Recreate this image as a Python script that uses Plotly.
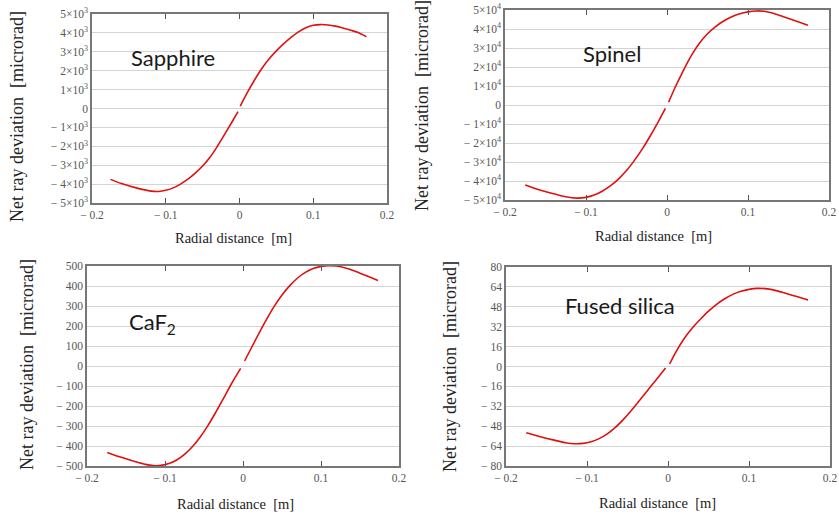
import plotly.graph_objects as go

W, H = 839, 521

# ---------------- data ----------------
sapphire_x = [-0.175, -0.16, -0.14, -0.12, -0.11, -0.10, -0.09, -0.08, -0.07, -0.06, -0.05, -0.04, -0.03, -0.02, -0.01, -0.002,
              None, 0.001, 0.01, 0.02, 0.03, 0.04, 0.05, 0.06, 0.07, 0.08, 0.09, 0.10, 0.11, 0.12, 0.13, 0.14, 0.15, 0.16, 0.172]
sapphire_y = [-3750, -3970, -4200, -4370, -4390, -4330, -4200, -4000, -3740, -3420, -3040, -2580, -2000, -1360, -700, -170,
              None, 120, 800, 1480, 2100, 2620, 3050, 3430, 3760, 4050, 4270, 4400, 4440, 4420, 4360, 4260, 4150, 4030, 3800]

spinel_x = [-0.175, -0.16, -0.14, -0.125, -0.111, -0.10, -0.09, -0.08, -0.07, -0.06, -0.05, -0.04, -0.03, -0.02, -0.01, -0.002,
            None, 0.002, 0.01, 0.02, 0.03, 0.04, 0.05, 0.06, 0.07, 0.08, 0.09, 0.10, 0.11, 0.12, 0.13, 0.143, 0.16, 0.174]
spinel_y = [-42100, -44300, -46700, -48300, -49000, -48600, -47400, -45400, -42600, -39000, -34500, -29000, -22800, -15800, -8200, -1800,
            None, 1500, 9200, 18000, 26000, 32500, 37500, 41300, 44200, 46400, 48000, 49000, 49500, 49300, 48400, 46600, 44100, 42000]

caf2_x = [-0.174, -0.155, -0.14, -0.125, -0.115, -0.105, -0.095, -0.085, -0.075, -0.065, -0.055, -0.045, -0.035, -0.025, -0.015, -0.003,
          None, 0.002, 0.01, 0.02, 0.03, 0.04, 0.05, 0.06, 0.07, 0.08, 0.09, 0.10, 0.11, 0.12, 0.135, 0.15, 0.173]
caf2_y = [-432, -458, -476, -492, -498, -497, -488, -470, -442, -404, -356, -298, -232, -162, -90, -12,
          None, 25, 85, 160, 232, 298, 355, 402, 440, 468, 487, 498, 502, 500, 486, 464, 428]

fused_x = [-0.175, -0.16, -0.142, -0.125, -0.115, -0.105, -0.095, -0.085, -0.075, -0.065, -0.055, -0.045, -0.035, -0.025, -0.015, -0.003,
           None, 0.002, 0.01, 0.02, 0.03, 0.04, 0.05, 0.06, 0.07, 0.08, 0.09, 0.10, 0.11, 0.12, 0.13, 0.146, 0.16, 0.173]
fused_y = [-53.3, -56.0, -59.0, -61.5, -62.1, -61.8, -60.5, -58.0, -54.2, -49.0, -42.5, -35.2, -27.2, -19.0, -11.0, -1.2,
           None, 2.0, 12.0, 22.5, 31.0, 38.0, 44.5, 50.0, 54.5, 58.0, 60.5, 62.0, 62.8, 62.6, 61.6, 58.7, 56.0, 53.4]

materials = ["Sapphire", "Spinel", "CaF<sub>2</sub>", "Fused silica"]

x_tickvals = [-0.2, -0.1, 0, 0.1, 0.2]
x_ticktext = ["− 0.2", "− 0.1", "0", "0.1", "0.2"]

sapphire_tickvals = [5000, 4000, 3000, 2000, 1000, 0, -1000, -2000, -3000, -4000, -5000]
sapphire_ticktext = ["5×10<sup>3</sup>", "4×10<sup>3</sup>", "3×10<sup>3</sup>", "2×10<sup>3</sup>", "1×10<sup>3</sup>", "0",
                     "− 1×10<sup>3</sup>", "− 2×10<sup>3</sup>", "− 3×10<sup>3</sup>", "− 4×10<sup>3</sup>", "− 5×10<sup>3</sup>"]
spinel_tickvals = [50000, 40000, 30000, 20000, 10000, 0, -10000, -20000, -30000, -40000, -50000]
spinel_ticktext = ["5×10<sup>4</sup>", "4×10<sup>4</sup>", "3×10<sup>4</sup>", "2×10<sup>4</sup>", "1×10<sup>4</sup>", "0",
                   "− 1×10<sup>4</sup>", "− 2×10<sup>4</sup>", "− 3×10<sup>4</sup>", "− 4×10<sup>4</sup>", "− 5×10<sup>4</sup>"]
caf2_tickvals = [500, 400, 300, 200, 100, 0, -100, -200, -300, -400, -500]
caf2_ticktext = ["500", "400", "300", "200", "100", "0", "− 100", "− 200", "− 300", "− 400", "− 500"]
fused_tickvals = [80, 64, 48, 32, 16, 0, -16, -32, -48, -64, -80]
fused_ticktext = ["80", "64", "48", "32", "16", "0", "− 16", "− 32", "− 48", "− 64", "− 80"]

x_title = "Radial distance&nbsp;&nbsp;[m]"
y_title = "Net ray deviation&nbsp;&nbsp;[microrad]"

# ---------------- layout geometry (pixels) ----------------
panels = [
    dict(x=sapphire_x, y=sapphire_y, tv=sapphire_tickvals, tt=sapphire_ticktext, yr=[-5000, 5000],
         box=(92, 387, 14, 203), lab=(173, 57), yt=(17, 117), xt=(233, 238)),
    dict(x=spinel_x, y=spinel_y, tv=spinel_tickvals, tt=spinel_ticktext, yr=[-50000, 50000],
         box=(505, 829, 10, 200), lab=(612, 53), yt=(422, 106), xt=(653, 236)),
    dict(x=caf2_x, y=caf2_y, tv=caf2_tickvals, tt=caf2_ticktext, yr=[-500, 500],
         box=(87, 399, 266, 466), lab=(152, 323), yt=(27, 365), xt=(235, 504)),
    dict(x=fused_x, y=fused_y, tv=fused_tickvals, tt=fused_ticktext, yr=[-80, 80],
         box=(506, 830, 267, 466), lab=(620, 305), yt=(450, 367), xt=(657, 503)),
]

fig = go.Figure()
tickfont = dict(family="Liberation Serif", size=11.5, color="#555555")
annotations = []

for i, p in enumerate(panels):
    n = "" if i == 0 else str(i + 1)
    l, r, t, b = p["box"]
    fig.add_trace(go.Scatter(x=p["x"], y=p["y"], mode="lines", connectgaps=False,
                             line=dict(color="#e01010", width=1.6, shape="spline", smoothing=1.0),
                             xaxis="x" + n, yaxis="y" + n, showlegend=False, hoverinfo="skip"))
    fig.layout["xaxis" + n] = dict(
        domain=[l / W, r / W], anchor="y" + n, range=[-0.2, 0.2],
        tickvals=x_tickvals, ticktext=x_ticktext, tickfont=tickfont,
        ticks="inside", ticklen=5, tickcolor="#555555", tickwidth=1,
        showline=True, linecolor="#777777", linewidth=1.5, mirror="ticks",
        showgrid=False, zeroline=False, automargin=False)
    fig.layout["yaxis" + n] = dict(
        domain=[1 - b / H, 1 - t / H], anchor="x" + n, range=p["yr"],
        tickvals=p["tv"], ticktext=p["tt"], tickfont=tickfont, ticks="",
        showline=True, linecolor="#777777", linewidth=1.5, mirror=True,
        showgrid=True, gridcolor="#d4d4d4", gridwidth=1, zeroline=False, automargin=False)
    lx, ly = p["lab"]
    annotations.append(dict(text=materials[i], x=lx / W, y=1 - ly / H, xref="paper", yref="paper",
                            xanchor="center", yanchor="middle",
                            showarrow=False, font=dict(family="Lato", size=22, color="#1a1a1a")))
    yx, yy = p["yt"]
    annotations.append(dict(text=y_title, x=yx / W, y=1 - yy / H, xref="paper", yref="paper",
                            xanchor="center", yanchor="middle",
                            textangle=-90, showarrow=False,
                            font=dict(family="Liberation Serif", size=18, color="#222222")))
    xx, xy = p["xt"]
    annotations.append(dict(text=x_title, x=xx / W, y=1 - xy / H, xref="paper", yref="paper",
                            xanchor="center", yanchor="middle",
                            showarrow=False,
                            font=dict(family="Liberation Serif", size=14.5, color="#222222")))

fig.update_layout(width=W, height=H, margin=dict(l=0, r=0, t=0, b=0),
                  paper_bgcolor="white", plot_bgcolor="white", annotations=annotations)

fig.write_html("out.html")
